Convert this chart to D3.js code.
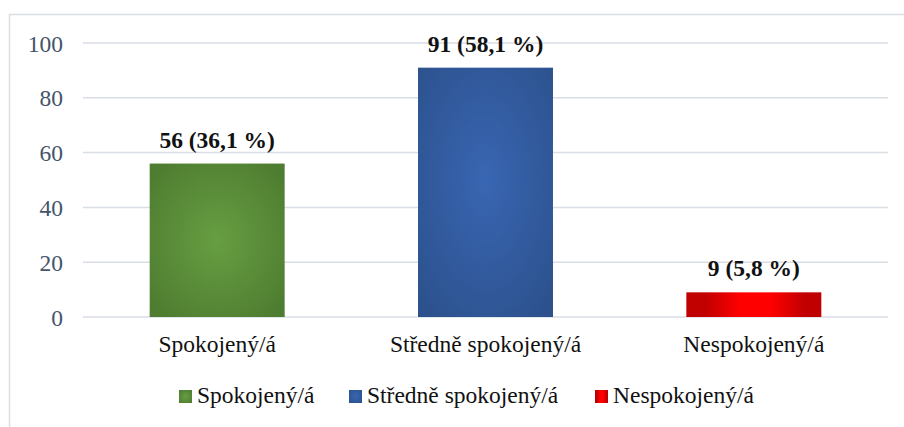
<!DOCTYPE html>
<html>
<head>
<meta charset="utf-8">
<script src="https://cdn.jsdelivr.net/npm/d3@7"></script>
<style>
  body { margin: 0; background: #fff; }
  svg { display: block; font-family: "Liberation Serif", "Times New Roman", serif; }
  .grid line { stroke: #d9dde4; stroke-width: 1.5; }
</style>
</head>
<body>
<div id="chart"></div>
<script>
var categories = ["Spokojený/á", "Středně spokojený/á", "Nespokojený/á"];
var counts = [56, 91, 9];
var percents = ["36,1", "58,1", "5,8"];
var yTicks = [0, 20, 40, 60, 80, 100];

var serif = '"Liberation Serif", "Times New Roman", serif';
var width = 904, height = 427;
var margin = { top: 43, right: 16, bottom: 110, left: 83 };

var svg = d3.select("#chart").append("svg")
  .attr("width", width)
  .attr("height", height);

// outer chart border (runs off the right/bottom edge)
svg.append("rect")
  .attr("x", 9.5).attr("y", 14.5)
  .attr("width", width + 20).attr("height", height + 20)
  .attr("fill", "#fff")
  .attr("stroke", "#d9dde4")
  .attr("stroke-width", 1.5);

var defs = svg.append("defs");

var gGreen = defs.append("radialGradient").attr("id", "g0").attr("cx", "50%").attr("cy", "50%").attr("r", "65%");
gGreen.append("stop").attr("offset", "0%").attr("stop-color", "#679e42");
gGreen.append("stop").attr("offset", "100%").attr("stop-color", "#4e7c30");

var gBlue = defs.append("radialGradient").attr("id", "g1").attr("cx", "50%").attr("cy", "45%").attr("r", "70%");
gBlue.append("stop").attr("offset", "0%").attr("stop-color", "#3966b3");
gBlue.append("stop").attr("offset", "100%").attr("stop-color", "#2c518c");

var gRed = defs.append("linearGradient").attr("id", "g2").attr("x1", "0%").attr("x2", "100%");
gRed.append("stop").attr("offset", "0%").attr("stop-color", "#c00000");
gRed.append("stop").attr("offset", "15%").attr("stop-color", "#c20000");
gRed.append("stop").attr("offset", "40%").attr("stop-color", "#ff0000");
gRed.append("stop").attr("offset", "62%").attr("stop-color", "#ff0000");
gRed.append("stop").attr("offset", "88%").attr("stop-color", "#c00000");
gRed.append("stop").attr("offset", "100%").attr("stop-color", "#c00000");

var fills = ["url(#g0)", "url(#g1)", "url(#g2)"];

var x = d3.scaleBand()
  .domain(categories)
  .range([margin.left, width - margin.right])
  .paddingInner(0.497)
  .paddingOuter(0.2485);

var y = d3.scaleLinear()
  .domain([0, 100])
  .range([317, margin.top]);

// gridlines
svg.append("g")
  .attr("class", "grid")
  .selectAll("line")
  .data(yTicks)
  .enter()
  .append("line")
  .attr("x1", margin.left)
  .attr("x2", width - margin.right)
  .attr("y1", d => y(d))
  .attr("y2", d => y(d));

// y axis labels
var yAxis = d3.axisLeft(y).tickValues(yTicks).tickSize(0).tickPadding(20);
svg.append("g")
  .attr("transform", `translate(${margin.left},0)`)
  .call(yAxis)
  .call(g => g.select(".domain").remove())
  .selectAll("text")
  .attr("dy", "0.34em")
  .style("font-family", serif)
  .style("font-size", "23.5px")
  .style("fill", "#44546a");

// bars
svg.selectAll("rect.bar")
  .data(counts)
  .enter()
  .append("rect")
  .attr("class", "bar")
  .attr("x", (d, i) => x(categories[i]))
  .attr("width", x.bandwidth())
  .attr("y", d => y(d))
  .attr("height", d => y(0) - y(d))
  .style("fill", (d, i) => fills[i]);

// value labels
svg.selectAll("text.valueLabel")
  .data(counts)
  .enter()
  .append("text")
  .attr("class", "valueLabel")
  .attr("x", (d, i) => x(categories[i]) + x.bandwidth() / 2)
  .attr("y", d => y(d) - 16)
  .attr("text-anchor", "middle")
  .style("font-size", "23.5px")
  .style("font-weight", "bold")
  .style("fill", "#111")
  .text((d, i) => d + " (" + percents[i] + " %)");

// category labels
svg.selectAll("text.catLabel")
  .data(categories)
  .enter()
  .append("text")
  .attr("class", "catLabel")
  .attr("x", d => x(d) + x.bandwidth() / 2)
  .attr("y", 352)
  .attr("text-anchor", "middle")
  .style("font-size", "23.5px")
  .style("fill", "#111")
  .text(d => d);

// legend
var legendX = [179, 349, 595];
var legend = svg.selectAll("g.legend")
  .data(categories)
  .enter()
  .append("g")
  .attr("class", "legend")
  .attr("transform", (d, i) => `translate(${legendX[i]},390)`);

legend.append("rect")
  .attr("width", 13)
  .attr("height", 13)
  .style("fill", (d, i) => fills[i]);

legend.append("text")
  .attr("x", 18)
  .attr("y", 13)
  .style("font-size", "23.5px")
  .style("fill", "#111")
  .text(d => d);
</script>
</body>
</html>
